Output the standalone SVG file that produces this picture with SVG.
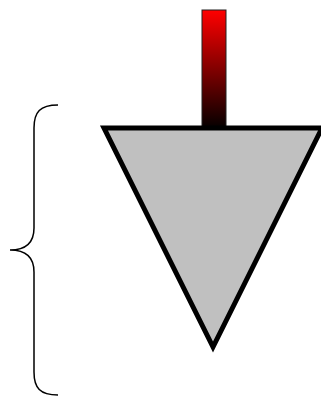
<svg xmlns="http://www.w3.org/2000/svg" width="321" height="396" viewBox="0 0 321 396">
<defs>
<linearGradient id="g" x1="0" y1="0" x2="0" y2="1">
<stop offset="0" stop-color="#ff0000"/>
<stop offset="1" stop-color="#000000"/>
</linearGradient>
</defs>
<style>.brace{fill:none;stroke:#000;stroke-width:1.5}</style>
<g id="brace"><path class="brace" d="M58,105 C40,105 34,112 34,128 L34,228 C34,243 26,250 10,250 C26,250 34,257 34,272 L34,372 C34,388 40,395 58,395"/></g>
<g id="stem"><rect x="202" y="10" width="24" height="120" fill="url(#g)" stroke="#222" stroke-width="1"/></g>
<g id="triangle"><polygon points="104,128 322,128 213,347" fill="#c0c0c0" stroke="#000" stroke-width="5" stroke-linejoin="miter"/></g>
</svg>
